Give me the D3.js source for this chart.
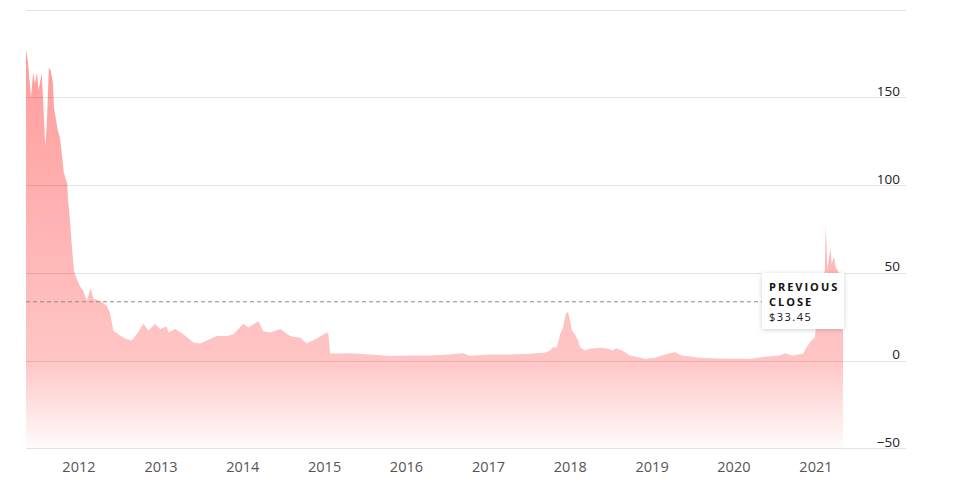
<!DOCTYPE html>
<html>
<head>
<meta charset="utf-8">
<script src="https://cdn.jsdelivr.net/npm/d3@7"></script>
<style>
  html, body { margin: 0; padding: 0; background: #fff; }
  svg { display: block; }
</style>
</head>
<body>
<svg id="chart" width="956" height="493"></svg>
<script>
// ---- data ----
const dates = [
  "2011-05-12","2011-05-21","2011-06-03","2011-06-13","2011-06-21","2011-06-30","2011-07-07","2011-07-21",
  "2011-07-29","2011-08-06","2011-08-13","2011-08-22","2011-08-31","2011-09-09","2011-09-14","2011-09-23",
  "2011-10-01","2011-10-10","2011-10-19","2011-10-28","2011-11-06","2011-11-12","2011-11-15","2011-11-24",
  "2011-12-03","2011-12-12","2011-12-26","2012-01-09","2012-01-22","2012-02-07","2012-02-25","2012-03-08",
  "2012-04-07","2012-05-07","2012-05-21","2012-06-05","2012-06-26","2012-07-27","2012-08-26","2012-09-17",
  "2012-10-17","2012-11-08","2012-12-08","2012-12-30","2013-01-29","2013-02-05","2013-03-07","2013-04-13",
  "2013-05-28","2013-06-27","2013-07-27","2013-09-09","2013-10-24","2013-11-22","2014-01-06","2014-01-28",
  "2014-03-14","2014-04-05","2014-05-05","2014-06-19","2014-08-02","2014-09-16","2014-10-16","2014-11-29",
  "2015-01-13","2015-01-20","2015-01-28","2015-03-13","2015-04-27","2015-07-25","2015-10-22","2016-01-19",
  "2016-04-18","2016-07-16","2016-09-12","2016-10-13","2017-01-10","2017-04-10","2017-07-08","2017-09-13",
  "2017-10-05","2017-10-18","2017-11-05","2017-11-19","2017-12-02","2017-12-15","2017-12-24","2018-01-02",
  "2018-01-11","2018-01-24","2018-02-07","2018-02-16","2018-03-10","2018-04-01","2018-05-16","2018-06-21",
  "2018-07-13","2018-07-26","2018-08-22","2018-09-27","2018-12-03","2019-01-16","2019-03-02","2019-04-15",
  "2019-05-16","2019-06-21","2019-08-05","2019-11-02","2020-02-21","2020-03-15","2020-05-29","2020-07-26",
  "2020-08-18","2020-09-22","2020-11-06","2020-11-28","2020-12-11","2020-12-29","2021-01-07","2021-01-21",
  "2021-02-03","2021-02-12","2021-02-16","2021-02-23","2021-03-02","2021-03-09","2021-03-15","2021-03-24",
  "2021-04-02","2021-04-16","2021-04-27","2021-05-04"
];
const closes = [
  177,170,150,164,158,164,154,164,
  144,122,135,167,165,158,144,137,
  131,127,118,107,103,101,93,80,
  65,51,46,42,40,34,41,35,
  34,31,27,17,15,12.6,11.4,15,
  21,17,21,18,19.4,16,18,15,
  10.3,9.7,11.4,14,14,15,21,18.8,
  22.3,16.6,16,18,14,13,9.7,12.6,
  16,15,4,4,4.2,3.4,2.5,2.9,
  2.9,3.4,4.2,2.7,3.4,3.4,3.8,4.5,
  5.7,7.6,7.6,15,19,26.8,27.6,22.8,
  17,15,11.4,7.6,5.7,6.7,7.2,6.7,
  5.7,7,5.7,2.9,1,1.5,3.4,4.7,
  2.9,2.3,1.5,1.1,1.0,0.9,2.3,2.9,
  4.2,2.9,3.8,8.6,11,13,23,32,
  42,52,77,52,58,64,55,59,
  53,50,48,33.45
];
const yTickValues = [-50, 0, 50, 100, 150, 200];
const yLabelValues = [-50, 0, 50, 100, 150];
const previousClose = 33.45;
const closeLabelLines = ["PREVIOUS", "CLOSE", "$33.45"];

// ---- layout ----
const W = 956, H = 493;
const left = 26, gridRight = 906, dataRight = 843;
const parse = d3.timeParse("%Y-%m-%d");
const data = dates.map((d, i) => ({ date: parse(d), value: closes[i] }));

const svg = d3.select("#chart");

const x = d3.scaleTime()
  .domain([data[0].date, data[data.length - 1].date])
  .range([left, dataRight]);
const y = d3.scaleLinear().domain([-50, 200]).range([448.25, 9.5]);

// gradient
const defs = svg.append("defs");
const grad = defs.append("linearGradient")
  .attr("id", "fillGrad")
  .attr("gradientUnits", "userSpaceOnUse")
  .attr("x1", 0).attr("x2", 0)
  .attr("y1", y(177)).attr("y2", y(-50));
const gStops = [
  { v: 177, c: "#ff9c9c" },
  { v: 0, c: "#ffc5c5" },
  { v: -50, c: "#fffbfb" }
];
const span = y(-50) - y(177);
gStops.forEach(s => {
  grad.append("stop")
    .attr("offset", (y(s.v) - y(177)) / span)
    .attr("stop-color", s.c);
});

const shadow = defs.append("filter").attr("id", "shadow")
  .attr("x", "-30%").attr("y", "-30%").attr("width", "160%").attr("height", "160%");
shadow.append("feDropShadow")
  .attr("dx", 0).attr("dy", 1).attr("stdDeviation", 2.5)
  .attr("flood-color", "#000").attr("flood-opacity", 0.18);

// area
const area = d3.area()
  .x(d => x(d.date))
  .y0(y(-50))
  .y1(d => y(d.value))
  .curve(d3.curveLinear);

svg.append("path")
  .datum(data)
  .attr("d", area)
  .attr("fill", "url(#fillGrad)");

// grid lines
svg.append("g")
  .selectAll("line")
  .data(yTickValues)
  .join("line")
  .attr("x1", left).attr("x2", gridRight)
  .attr("y1", d => Math.round(y(d)) + 0.5)
  .attr("y2", d => Math.round(y(d)) + 0.5)
  .attr("stroke", "rgba(0,0,0,0.11)")
  .attr("stroke-width", 1);

// y labels
svg.append("g")
  .selectAll("text")
  .data(yLabelValues)
  .join("text")
  .attr("x", 900)
  .attr("y", d => y(d) - 1.5)
  .attr("text-anchor", "end")
  .attr("font-family", "'Open Sans', sans-serif")
  .attr("font-size", 13.5)
  .attr("fill", "#222")
  .text(d => d < 0 ? "\u2212" + Math.abs(d) : d);

// x axis (year labels)
const xAxis = d3.axisBottom(x)
  .ticks(d3.timeYear.every(1))
  .tickFormat(d3.timeFormat("%Y"))
  .tickSize(0)
  .tickPadding(0);
const xg = svg.append("g")
  .attr("transform", `translate(0, ${y(-50)})`)
  .call(xAxis);
xg.select(".domain").remove();
xg.selectAll("text")
  .attr("y", 23.5)
  .attr("dy", 0)
  .attr("font-family", "'Open Sans', sans-serif")
  .attr("font-size", 14.5)
  .attr("fill", "#555");

// previous close dashed line
const boxX = 762, boxY = 273, boxW = 82, boxH = 56;
svg.append("line")
  .attr("x1", left).attr("x2", boxX)
  .attr("y1", y(previousClose)).attr("y2", y(previousClose))
  .attr("stroke", "#8a8a8a")
  .attr("stroke-width", 1)
  .attr("stroke-dasharray", "4,3");

// label box
svg.append("rect")
  .attr("x", boxX).attr("y", boxY)
  .attr("width", boxW).attr("height", boxH)
  .attr("fill", "#fff")
  .attr("filter", "url(#shadow)");

const lbl = svg.append("g").attr("font-family", "'Open Sans', sans-serif").attr("font-size", 11);
closeLabelLines.forEach((t, i) => {
  lbl.append("text")
    .attr("x", boxX + 7)
    .attr("y", 291 + i * 15.2)
    .attr("font-weight", i < 2 ? 700 : 400)
    .attr("letter-spacing", i < 2 ? 2 : 1.5)
    .attr("fill", "#111")
    .text(t);
});
</script>
</body>
</html>
